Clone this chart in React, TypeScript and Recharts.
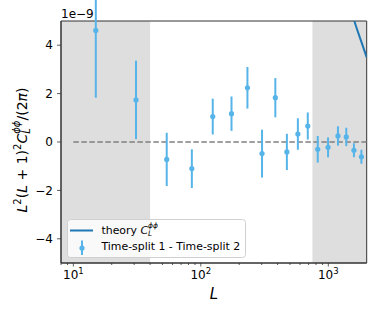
import React from "react";
import {
  ComposedChart,
  Scatter,
  Line,
  XAxis,
  YAxis,
  ErrorBar,
  ReferenceArea,
  Legend,
} from "recharts";

// values in units of 1e-9
const bandL = [15, 31, 54, 85, 124, 174, 232, 302, 384, 473, 577, 690, 826, 995, 1190, 1383, 1588, 1818];
const bandV = [4.61, 1.74, -0.72, -1.1, 1.05, 1.17, 2.24, -0.48, 1.83, -0.41, 0.33, 0.66, -0.3, -0.22, 0.25, 0.21, -0.34, -0.61];
const bandErr = [2.78, 1.62, 1.1, 0.8, 0.74, 0.71, 0.86, 0.99, 0.81, 0.75, 0.65, 0.56, 0.55, 0.41, 0.4, 0.38, 0.29, 0.29];

const theoryL = [1300, 1450, 1600, 1800, 2000];
const theoryV = [7.0, 5.8, 5.0, 4.2, 3.5];

const zeroL = [10, 2000];
const maskedRanges = [
  [8, 40],
  [750, 2000],
];

const xTicks = [8, 9, 10, 20, 30, 40, 50, 60, 70, 80, 90, 100, 200, 300, 400, 500, 600, 700, 800, 900, 1000];
const yTicks = [-4, -2, 0, 2, 4];

const FONT = "DejaVu Sans";
const DATA_COLOR = "#56b4e9";
const THEORY_COLOR = "#1f77b4";
const AXIS_COLOR = "#333";

const points = bandL.map((L, i) => ({ L, v: bandV[i], err: bandErr[i] }));
const theory = theoryL.map((L, i) => ({ L, v: theoryV[i] }));
const zero = zeroL.map((L) => ({ L, v: 0 }));

function XTick(props: any) {
  const { x, y, payload } = props;
  const v = payload.value;
  const exp = Math.log10(v);
  const major = Math.abs(exp - Math.round(exp)) < 1e-6;
  return (
    <g>
      <line x1={x} x2={x} y1={y} y2={y + (major ? 3.5 : 2)} stroke={AXIS_COLOR} strokeWidth={0.8} />
      {major && (
        <text x={x} y={y + 16} textAnchor="middle" fontSize={12} fontFamily={FONT} fill="#000">
          10
          <tspan dy={-5} fontSize={8.5}>
            {Math.round(exp)}
          </tspan>
        </text>
      )}
    </g>
  );
}

function YLabel() {
  return (
    <text
      x={27}
      y={150}
      transform="rotate(-90, 27, 150)"
      textAnchor="middle"
      fontSize={14}
      fontFamily={FONT}
      fill="#000"
    >
      <tspan fontStyle="italic">L</tspan>
      <tspan dy={-6} fontSize={10}>2</tspan>
      <tspan dy={6}>(</tspan>
      <tspan fontStyle="italic">L</tspan>
      <tspan> + 1)</tspan>
      <tspan dy={-6} fontSize={10}>2</tspan>
      <tspan dy={6} fontStyle="italic">C</tspan>
      <tspan dy={3} fontSize={10} fontStyle="italic">L</tspan>
      <tspan dy={-10} dx={-5.5} fontSize={10} fontStyle="italic">ϕϕ</tspan>
      <tspan dy={7}>/(2</tspan>
      <tspan fontStyle="italic">π</tspan>
      <tspan>)</tspan>
    </text>
  );
}

function XLabel() {
  return (
    <text x={214} y={299} textAnchor="middle" fontSize={15} fontStyle="italic" fontFamily={FONT} fill="#000">
      L
    </text>
  );
}

function Offset() {
  return (
    <text x={61} y={18} fontSize={12} fontFamily={FONT} fill="#000">
      1e−9
    </text>
  );
}

function LegendBox() {
  return (
    <svg width={179} height={40} style={{ display: "block" }}>
      <rect x={0.5} y={0.5} width={178} height={38} rx={3} fill="rgba(255,255,255,0.8)" stroke="#d0d0d0" />
      <line x1={3} x2={26} y1={11.5} y2={11.5} stroke={THEORY_COLOR} strokeWidth={2} />
      <text x={34.5} y={14.5} fontSize={10.9} fontFamily={FONT} fill="#000">
        theory <tspan fontStyle="italic">C</tspan>
        <tspan dy={2.5} fontSize={7.5} fontStyle="italic">L</tspan>
        <tspan dy={-8} dx={-4.2} fontSize={7.5} fontStyle="italic">ϕϕ</tspan>
      </text>
      <line x1={15} x2={15} y1={21.5} y2={36} stroke={DATA_COLOR} strokeWidth={2} />
      <circle cx={15} cy={29} r={2.6} fill={DATA_COLOR} />
      <text x={34.5} y={30.8} fontSize={10.9} fontFamily={FONT} fill="#000">
        Time-split 1 - Time-split 2
      </text>
    </svg>
  );
}

export default function App() {
  return (
    <div style={{ position: "absolute", left: 0, top: 0, width: 374, height: 311, background: "#fff" }}>
      <ComposedChart width={374} height={311} margin={{ top: 21, right: 7.3, bottom: 18, left: 11 }}>
        {maskedRanges.map(([a, b], i) => (
          <ReferenceArea key={i} x1={a} x2={b} y1={-5} y2={5} fill="#dedede" fillOpacity={1} stroke="none" ifOverflow="hidden" />
        ))}
        {/* plot frame */}
        <ReferenceArea x1={8} x2={2000} y1={-5} y2={5} fill="none" stroke={AXIS_COLOR} strokeWidth={1} />
        <XAxis
          dataKey="L"
          type="number"
          scale="log"
          domain={[8, 2000]}
          allowDataOverflow
          ticks={xTicks}
          interval={0}
          tickSize={0}
          tickMargin={0}
          tick={<XTick />}
          height={30}
          axisLine={{ stroke: AXIS_COLOR, strokeWidth: 1 }}
          label={{ content: () => <XLabel /> }}
        />
        <YAxis
          dataKey="v"
          type="number"
          domain={[-5, 5]}
          allowDataOverflow
          ticks={yTicks}
          interval={0}
          width={50}
          tickSize={4}
          tickMargin={4}
          tickLine={{ stroke: AXIS_COLOR, strokeWidth: 0.8 }}
          axisLine={{ stroke: AXIS_COLOR, strokeWidth: 1 }}
          tick={{ fontSize: 12, fontFamily: FONT, fill: "#000" }}
          tickFormatter={(v: number) => (v < 0 ? "\u2212" + Math.abs(v) : String(v))}
          label={{
            content: () => (
              <g>
                <YLabel />
                <Offset />
              </g>
            ),
          }}
        />
        <Line
          data={zero}
          dataKey="v"
          stroke="#808080"
          strokeWidth={1.5}
          strokeDasharray="5.5 2.5"
          dot={false}
          isAnimationActive={false}
          legendType="none"
        />
        <Line
          data={theory}
          dataKey="v"
          name="theory"
          stroke={THEORY_COLOR}
          strokeWidth={2}
          dot={false}
          type="monotone"
          isAnimationActive={false}
        />
        <Scatter
          data={points}
          dataKey="v"
          name="Time-split 1 - Time-split 2"
          fill={DATA_COLOR}
          shape={(p: any) => <circle cx={p.cx} cy={p.cy} r={2.6} fill={DATA_COLOR} />}
          isAnimationActive={false}
        >
          <ErrorBar dataKey="err" direction="y" width={0} stroke={DATA_COLOR} strokeWidth={2} isAnimationActive={false} />
        </Scatter>
        <Legend
          layout="vertical"
          align="center"
          verticalAlign="middle"
          wrapperStyle={{ left: 67, top: 218.5, width: 179, height: 40 }}
          content={() => <LegendBox />}
        />
      </ComposedChart>
    </div>
  );
}
